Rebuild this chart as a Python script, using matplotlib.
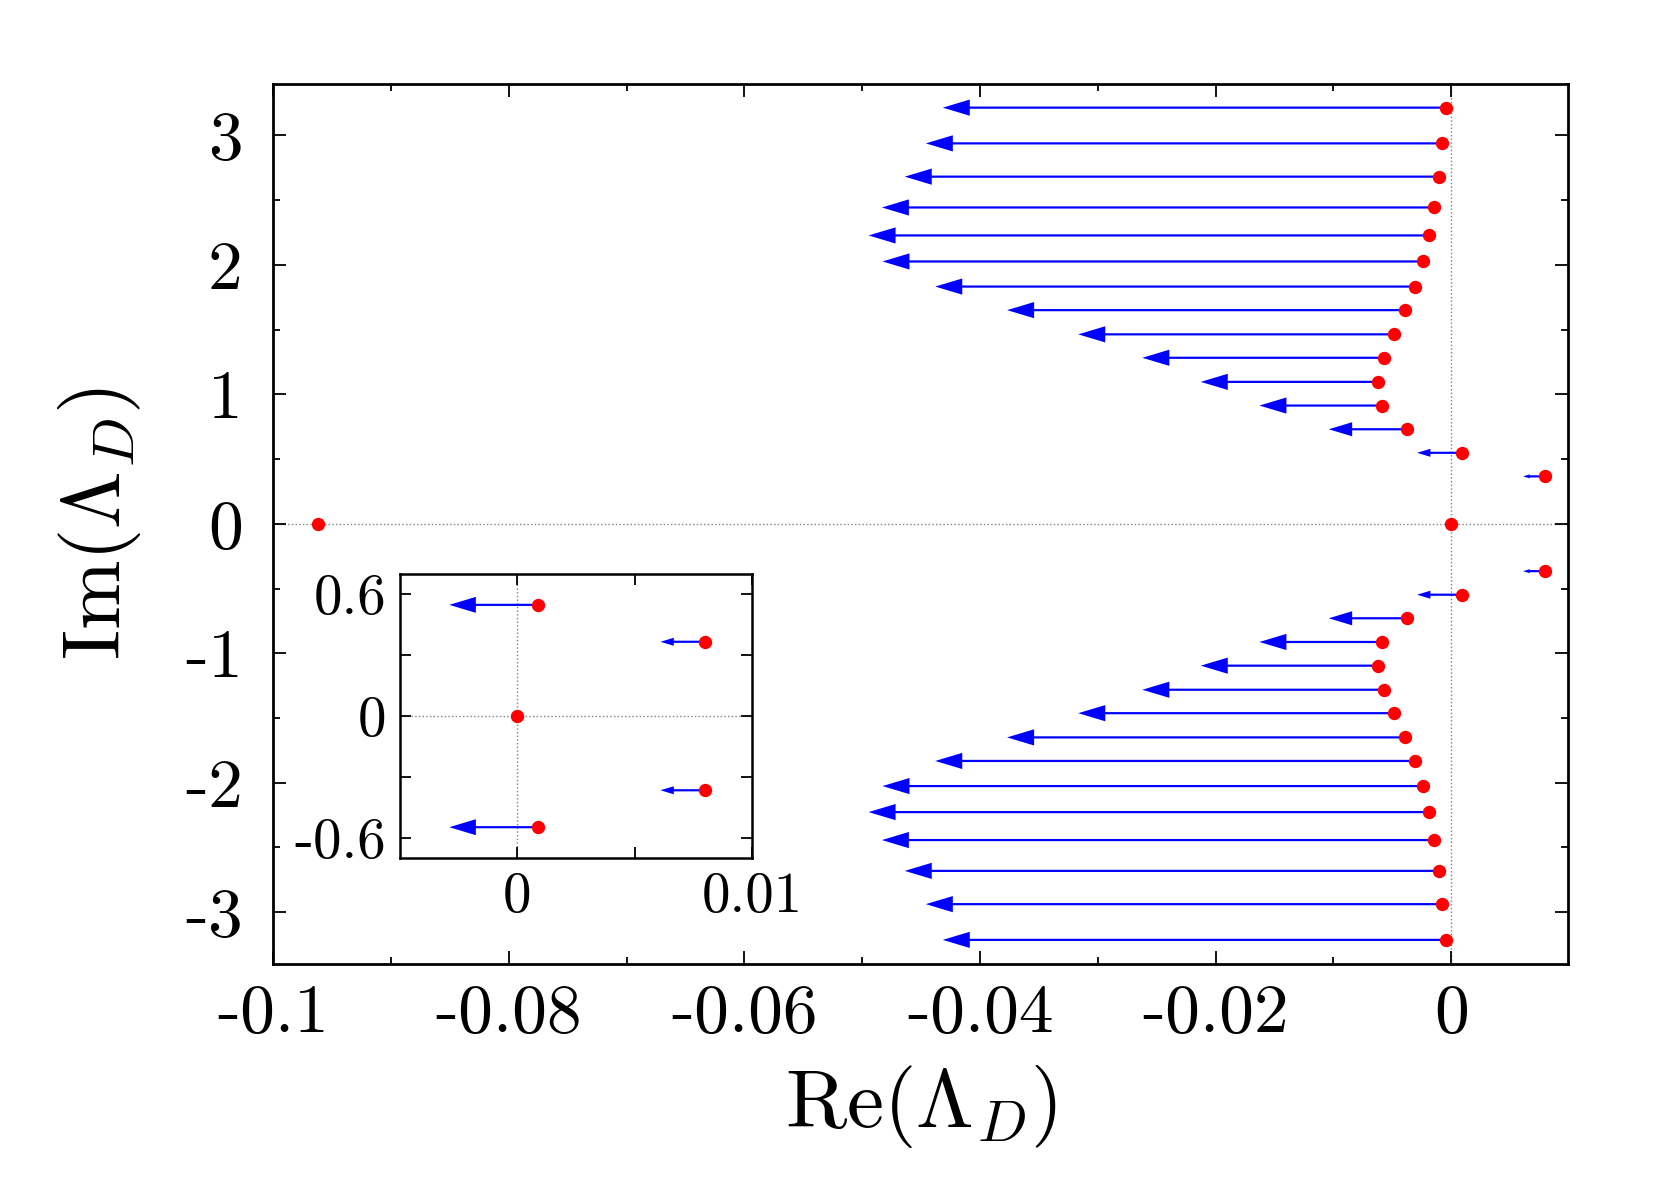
import matplotlib
matplotlib.use('Agg')
import matplotlib.pyplot as plt
from matplotlib.ticker import MultipleLocator

plt.rcParams['font.family'] = 'serif'
plt.rcParams['font.serif'] = ['cmr10', 'DejaVu Serif']
plt.rcParams['mathtext.fontset'] = 'cm'
plt.rcParams['axes.unicode_minus'] = False

# eigenvalues (upper half plane)
re_upper = [-0.00045, -0.00076, -0.00106, -0.00144, -0.0019, -0.00242, -0.00311, -0.00395,
            -0.00486, -0.00569, -0.00622, -0.00584, -0.00376, 0.00088, 0.0080]
im_upper = [3.214, 2.938, 2.681, 2.443, 2.227, 2.026, 1.832, 1.650,
            1.463, 1.282, 1.096, 0.913, 0.730, 0.548, 0.366]
tip_upper = [-0.04316, -0.0446, -0.04639, -0.04833, -0.04946, -0.04828, -0.0438, -0.0377,
             -0.03166, -0.02622, -0.02126, -0.01628, -0.0104, -0.0029, 0.0061]

# lower half plane
re_lower = [-0.00045, -0.00076, -0.00106, -0.00144, -0.0019, -0.00242, -0.00311, -0.00395,
            -0.00486, -0.00569, -0.00622, -0.00584, -0.00376, 0.00088, 0.0080]
im_lower = [-3.214, -2.938, -2.681, -2.443, -2.227, -2.026, -1.832, -1.650,
            -1.463, -1.282, -1.096, -0.913, -0.730, -0.548, -0.366]
tip_lower = [-0.04316, -0.0446, -0.04639, -0.04833, -0.04946, -0.04828, -0.0438, -0.0377,
             -0.03166, -0.02622, -0.02126, -0.01628, -0.0104, -0.0029, 0.0061]

# real eigenvalues (no arrow)
re_real = [-0.0962, 0.0]
im_real = [0.0, 0.0]

xticks_main = [-0.1, -0.08, -0.06, -0.04, -0.02, 0]
xlabels_main = ['-0.1', '-0.08', '-0.06', '-0.04', '-0.02', '0']
yticks_main = [-3, -2, -1, 0, 1, 2, 3]
ylabels_main = ['-3', '-2', '-1', '0', '1', '2', '3']

xticks_ins = [0, 0.005, 0.01]
xlabels_ins = ['0', '', '0.01']
yticks_ins = [-0.6, -0.3, 0, 0.3, 0.6]
ylabels_ins = ['-0.6', '', '0', '', '0.6']


def draw_arrows(ax, x_from, x_to, ys):
    # head scales down for short arrows, like gnuplot vectors
    x0, x1 = ax.get_xlim()
    y0, y1 = ax.get_ylim()
    sx = ax.bbox.width / (x1 - x0)
    sy = ax.bbox.height / (y1 - y0)
    for xa, xb, y in zip(x_from, x_to, ys):
        length_px = abs(xb - xa) * sx
        hl = min(27.0, 0.3 * length_px)
        hw = hl * 0.6
        ax.arrow(xa, y, xb - xa, 0, width=2.2 / sy, head_width=hw / sy,
                 head_length=hl / sx, length_includes_head=True,
                 fc='blue', ec='none', lw=0, zorder=3)


def visible(ax, xs, ys):
    # keep only points that lie fully inside the axes (no half-clipped dots)
    x0, x1 = ax.get_xlim()
    y0, y1 = ax.get_ylim()
    keep = [(x, y) for x, y in zip(xs, ys) if x0 < x < x1 and y0 < y < y1]
    return [k[0] for k in keep], [k[1] for k in keep]


def style_axes(ax, spine_w, major_len, minor_len):
    for s in ax.spines.values():
        s.set_linewidth(spine_w)
    ax.tick_params(which='both', direction='in', top=True, right=True, width=1.3)
    ax.tick_params(which='major', length=major_len)
    ax.tick_params(which='minor', length=minor_len)


fig = plt.figure(figsize=(16.61, 11.77), dpi=100)
ax = fig.add_axes([0.1645, 0.181, 0.7794, 0.748])
ax.set_xlim(-0.1, 0.0099)
ax.set_ylim(-3.4, 3.4)
ax.axhline(0, color='gray', ls=':', lw=1.0, zorder=1)
ax.axvline(0, color='gray', ls=':', lw=1.0, zorder=1)

draw_arrows(ax, re_upper, tip_upper, im_upper)
draw_arrows(ax, re_lower, tip_lower, im_lower)
ax.plot(re_upper, im_upper, 'o', color='red', ms=9.6, mec='none', zorder=4)
ax.plot(re_lower, im_lower, 'o', color='red', ms=9.6, mec='none', zorder=4)
ax.plot(re_real, im_real, 'o', color='red', ms=9.6, mec='none', zorder=4)

ax.set_xticks(xticks_main)
ax.set_xticklabels(xlabels_main)
ax.set_yticks(yticks_main)
ax.set_yticklabels(ylabels_main)
ax.xaxis.set_minor_locator(MultipleLocator(0.01))
ax.yaxis.set_minor_locator(MultipleLocator(0.5))
style_axes(ax, 2.0, 9.5, 5)
ax.tick_params(axis='x', labelsize=50, pad=14)
ax.tick_params(axis='y', labelsize=50, pad=22)
ax.set_xlabel(r'$\mathrm{Re}(\Lambda_D)$', fontsize=60, labelpad=13)
ax.set_ylabel(r'$\mathrm{Im}(\Lambda_D)$', fontsize=60, labelpad=30)

# inset
ins = fig.add_axes([0.2408, 0.271, 0.2119, 0.2413])
ins.set_xlim(-0.005, 0.01)
ins.set_ylim(-0.7, 0.7)
ins.axhline(0, color='gray', ls=':', lw=1.0, zorder=1)
ins.axvline(0, color='gray', ls=':', lw=1.0, zorder=1)

draw_arrows(ins, *zip(*[(a, b, c) for a, b, c in zip(re_upper, tip_upper, im_upper) if c < 0.7]))
draw_arrows(ins, *zip(*[(a, b, c) for a, b, c in zip(re_lower, tip_lower, im_lower) if c > -0.7]))
ins.plot(*visible(ins, re_upper, im_upper), 'o', color='red', ms=9.6, mec='none', zorder=4)
ins.plot(*visible(ins, re_lower, im_lower), 'o', color='red', ms=9.6, mec='none', zorder=4)
ins.plot(*visible(ins, re_real, im_real), 'o', color='red', ms=9.6, mec='none', zorder=4)

ins.set_xticks(xticks_ins)
ins.set_xticklabels(xlabels_ins)
ins.set_yticks(yticks_ins)
ins.set_yticklabels(ylabels_ins)
style_axes(ins, 1.8, 8, 4)
ins.tick_params(labelsize=41, pad=10)

fig.savefig('out.png', dpi=100)
